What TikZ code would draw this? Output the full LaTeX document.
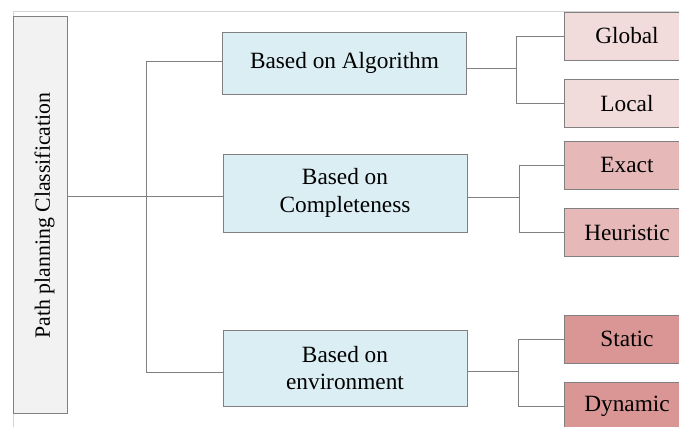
\documentclass[tikz,border=0pt]{standalone}
\usepackage{fontspec}
\setmainfont{Liberation Serif}
\definecolor{midfill}{HTML}{DBEEF4}
\definecolor{lvlA}{HTML}{F2DCDB}
\definecolor{lvlB}{HTML}{E6B9B8}
\definecolor{lvlC}{HTML}{D99694}
\definecolor{rootfill}{HTML}{F2F2F2}
\definecolor{edgecol}{HTML}{808080}
\definecolor{framecol}{HTML}{D4D4D4}
\tikzset{
  box/.style={draw=edgecol, line width=0.9pt, rectangle, inner sep=2pt, align=center, text=black},
  midbox/.style={box, fill=midfill, minimum width=244pt},
  leafbox/.style={box, minimum width=126pt, minimum height=48pt},
  conn/.style={draw=edgecol, line width=0.9pt},
}
\begin{document}
\begin{tikzpicture}[x=1pt,y=-1pt, font=\fontsize{23.3}{27.5}\selectfont]
\useasboundingbox (0,0) rectangle (679,427);
\clip (0,0) rectangle (679,427);
\fill[white] (0,0) rectangle (679,427);
\draw[framecol, line width=0.8pt] (13,427) -- (13,11) -- (679,11);

\node[box, fill=rootfill, minimum width=54pt, minimum height=397pt] (root) at (40,214.5) {};
\node[rotate=90, inner sep=0pt, font=\fontsize{21.8}{26}\selectfont] (rootlabel) at (44.5,215.5) {Path planning Classification};

\node[midbox, minimum height=62pt] (alg) at (344.5,63) {Based on Algorithm};
\node[midbox, minimum height=78pt] (comp) at (345,193) {Based on\\Completeness};
\node[midbox, minimum height=76pt] (env) at (345,368) {Based on\\environment};

\node[leafbox, fill=lvlA] (glob) at (627,36) {Global};
\node[leafbox, fill=lvlA] (loc) at (627,103.5) {Local};
\node[leafbox, fill=lvlB] (exact) at (627,165) {Exact};
\node[leafbox, fill=lvlB] (heur) at (627,232.5) {Heuristic};
\node[leafbox, fill=lvlC] (stat) at (627,339) {Static};
\node[leafbox, fill=lvlC] (dyn) at (627,406) {Dynamic};

\coordinate (t) at (146,196);
\coordinate (t1) at (146,61);
\coordinate (t3) at (146,372);
\draw[conn] (root.east |- t) -- (t);
\draw[conn] (t1) -- (t3);
\draw[conn] (t1) -- (t1 -| alg.west);
\draw[conn] (t) -- (t -| comp.west);
\draw[conn] (t3) -- (t3 -| env.west);

\coordinate (j1) at (516,68);
\coordinate (j2) at (519,197);
\coordinate (j3) at (518,371);
\draw[conn] (alg.east |- j1) -- (j1);
\draw[conn] (glob.west -| j1) -- (loc.west -| j1);
\draw[conn] (glob.west -| j1) -- (glob.west);
\draw[conn] (loc.west -| j1) -- (loc.west);
\draw[conn] (comp.east |- j2) -- (j2);
\draw[conn] (exact.west -| j2) -- (heur.west -| j2);
\draw[conn] (exact.west -| j2) -- (exact.west);
\draw[conn] (heur.west -| j2) -- (heur.west);
\draw[conn] (env.east |- j3) -- (j3);
\draw[conn] (stat.west -| j3) -- (dyn.west -| j3);
\draw[conn] (stat.west -| j3) -- (stat.west);
\draw[conn] (dyn.west -| j3) -- (dyn.west);
\end{tikzpicture}
\end{document}
